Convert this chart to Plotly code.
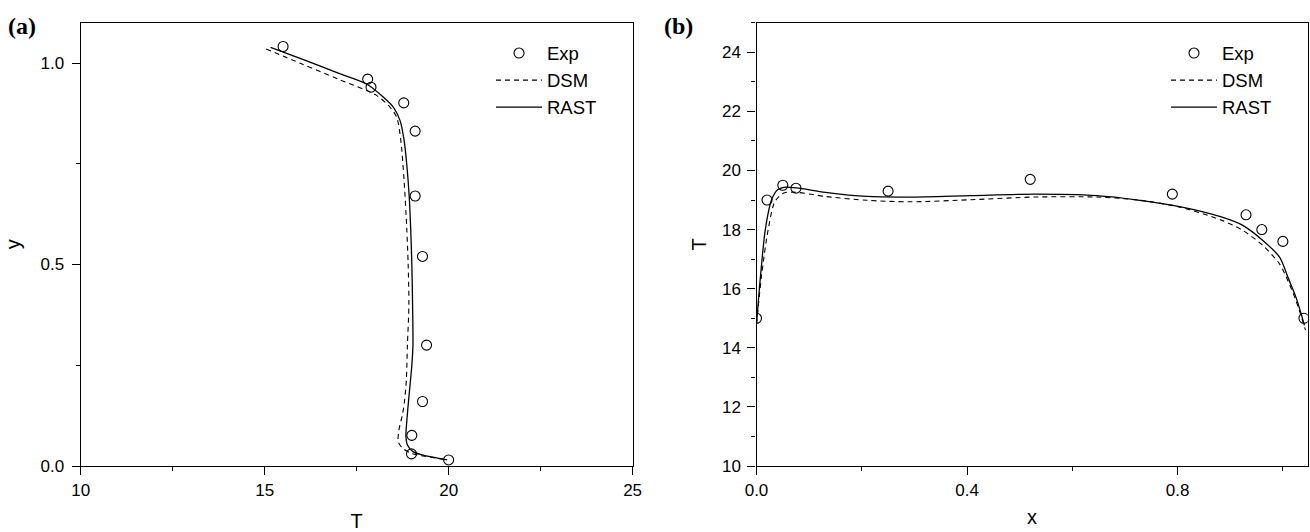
import plotly.graph_objects as go

W, H = 1310, 532

# ---------- Panel (a): T vs y ----------
exp_a_T = [15.50, 17.80, 17.89, 18.78, 19.09, 19.09, 19.29, 19.40, 19.29, 19.00, 18.99, 20.00]
exp_a_y = [1.041, 0.960, 0.940, 0.901, 0.831, 0.670, 0.520, 0.300, 0.160, 0.076, 0.030, 0.015]

dsm_a_T = [15.04, 16.0, 17.0, 18.05, 18.41, 18.59, 18.70, 18.79, 18.86, 18.90, 18.92, 18.88,
           18.85, 18.80, 18.75, 18.65, 18.63, 18.75, 19.00, 19.50, 19.96]
dsm_a_y = [1.035, 0.998, 0.960, 0.919, 0.890, 0.865, 0.808, 0.708, 0.593, 0.500, 0.400, 0.300,
           0.213, 0.160, 0.130, 0.089, 0.060, 0.044, 0.031, 0.022, 0.015]

rast_a_T = [15.16, 16.0, 17.0, 17.77, 18.23, 18.50, 18.68, 18.79, 18.86, 18.93, 18.97, 19.00,
            19.02, 19.03, 19.00, 18.95, 18.88, 18.84, 18.88, 19.04, 19.49, 19.96]
rast_a_y = [1.039, 1.010, 0.975, 0.948, 0.915, 0.890, 0.857, 0.808, 0.750, 0.667, 0.585, 0.500,
            0.400, 0.300, 0.250, 0.200, 0.130, 0.073, 0.052, 0.035, 0.023, 0.015]

# ---------- Panel (b): x vs T ----------
exp_b_x = [0.0, 0.02, 0.05, 0.075, 0.25, 0.52, 0.79, 0.93, 0.96, 1.00, 1.04]
exp_b_T = [15.0, 19.0, 19.5, 19.4, 19.3, 19.7, 19.2, 18.5, 18.0, 17.6, 15.0]

dsm_b_x = [0.0, 0.010, 0.022, 0.035, 0.052, 0.076, 0.131, 0.21, 0.29, 0.408, 0.527, 0.646,
           0.725, 0.804, 0.883, 0.923, 0.962, 0.994, 1.010, 1.0255, 1.043]
dsm_b_T = [14.8, 16.5, 17.98, 18.95, 19.24, 19.26, 19.12, 18.99, 18.94, 19.01, 19.10, 19.10,
           19.00, 18.76, 18.32, 17.98, 17.46, 16.83, 16.25, 15.57, 14.6]

rast_b_x = [0.0, 0.008, 0.0166, 0.0285, 0.040, 0.052, 0.076, 0.131, 0.21, 0.29, 0.408, 0.527,
            0.646, 0.725, 0.804, 0.883, 0.923, 0.962, 0.994, 1.010, 1.0255, 1.041]
rast_b_T = [14.8, 16.5, 17.98, 19.0, 19.35, 19.43, 19.41, 19.26, 19.12, 19.10, 19.15, 19.20,
            19.15, 19.00, 18.78, 18.43, 18.15, 17.63, 17.06, 16.37, 15.68, 14.76]

names = ["Exp", "DSM", "RAST"]
FONT = "Liberation Sans, Arial, sans-serif"
SERIF = "Liberation Serif, Times New Roman, serif"
LW = 1.3

fig = go.Figure()

def add_panel(xs_e, ys_e, xs_d, ys_d, xs_r, ys_r, xa, ya, leg):
    fig.add_trace(go.Scatter(x=xs_e, y=ys_e, mode="markers", name=names[0],
                             marker=dict(symbol="circle-open", size=10, color="black",
                                         line=dict(width=1.1, color="black")),
                             xaxis=xa, yaxis=ya, legend=leg))
    fig.add_trace(go.Scatter(x=xs_d, y=ys_d, mode="lines", name=names[1],
                             line=dict(color="black", width=1.1, dash="5px,4px",
                                       shape="spline", smoothing=0.8),
                             xaxis=xa, yaxis=ya, legend=leg))
    fig.add_trace(go.Scatter(x=xs_r, y=ys_r, mode="lines", name=names[2],
                             line=dict(color="black", width=LW, shape="spline", smoothing=0.8),
                             xaxis=xa, yaxis=ya, legend=leg))

add_panel(exp_a_T, exp_a_y, dsm_a_T, dsm_a_y, rast_a_T, rast_a_y, "x", "y", "legend")
add_panel(exp_b_x, exp_b_T, dsm_b_x, dsm_b_T, rast_b_x, rast_b_T, "x2", "y2", "legend2")

def px_x(p):
    return p / W

def px_y(p):
    return 1 - p / H

axis_common = dict(
    showline=True, linecolor="black", linewidth=LW, mirror=True,
    ticks="outside", ticklen=8, tickwidth=LW, tickcolor="black",
    showgrid=False, zeroline=False, automargin=False,
    tickfont=dict(family=FONT, size=17, color="black"),
    title_font=dict(family=FONT, size=20, color="black"),
)

def minor(dt):
    return dict(ticks="outside", ticklen=4, tickwidth=LW, tickcolor="black", dtick=dt)

ydom = [px_y(466), px_y(22.7)]

legend_common = dict(xanchor="left", yanchor="top", bgcolor="rgba(0,0,0,0)",
                     font=dict(family=FONT, size=18.5, color="black"),
                     tracegroupgap=0, itemwidth=46)

fig.update_layout(
    width=W, height=H,
    margin=dict(l=0, r=0, t=0, b=0, autoexpand=False),
    paper_bgcolor="white", plot_bgcolor="white",
    font=dict(family=FONT, color="black"),
    xaxis=dict(domain=[px_x(80.7), px_x(632.6)], range=[10, 25], tick0=10, dtick=5,
               anchor="y", title=dict(text="T", standoff=17), minor=minor(2.5),
               **axis_common),
    yaxis=dict(domain=ydom, range=[0, 1.1], tick0=0, dtick=0.5, tickformat=".1f",
               anchor="x", title=dict(text="y", standoff=14), minor=minor(0.25),
               ticklabelstandoff=4, **axis_common),
    xaxis2=dict(domain=[px_x(756.5), px_x(1307.6)], range=[0, 1.047], tick0=0, dtick=0.4,
                tickformat=".1f", anchor="y2", title=dict(text="x", standoff=11),
                minor=minor(0.2), **axis_common),
    yaxis2=dict(domain=ydom, range=[10, 25], tick0=10, dtick=2,
                anchor="x2", title=dict(text="T", standoff=10), minor=minor(1),
                ticklabelstandoff=3, **axis_common),
    legend=dict(x=px_x(491), y=px_y(34.5), **legend_common),
    legend2=dict(x=px_x(1166), y=px_y(34.5), **legend_common),
    annotations=[
        dict(text="<b>(a)</b>", x=px_x(6), y=px_y(26), xref="paper", yref="paper",
             xanchor="left", yanchor="middle", showarrow=False,
             font=dict(family=SERIF, size=24, color="black")),
        dict(text="<b>(b)</b>", x=px_x(662), y=px_y(26), xref="paper", yref="paper",
             xanchor="left", yanchor="middle", showarrow=False,
             font=dict(family=SERIF, size=24, color="black")),
    ],
)

fig.write_html("out.html")
